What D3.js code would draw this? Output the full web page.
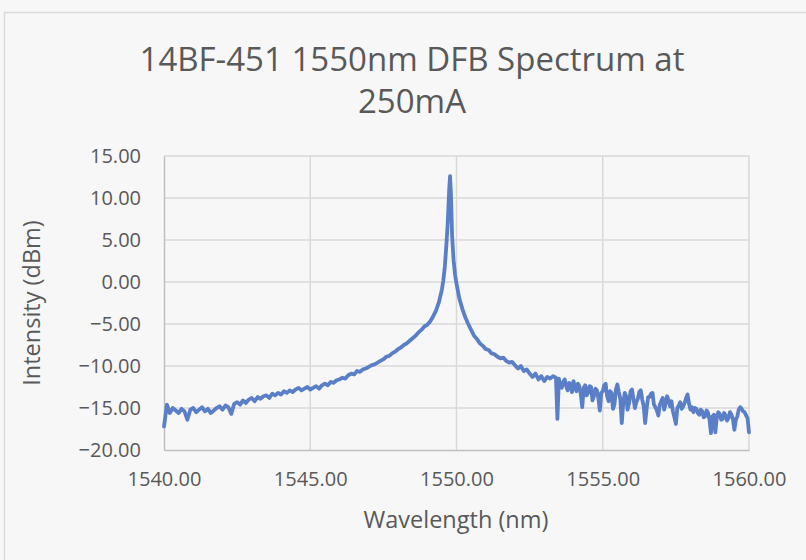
<!DOCTYPE html>
<html>
<head>
<meta charset="utf-8">
<script src="https://cdn.jsdelivr.net/npm/d3@7"></script>
<style>
  html, body { margin: 0; padding: 0; background: #f7f7f7; }
  svg { display: block; }
  text { font-family: "Open Sans", "Noto Sans", sans-serif; fill: #595959; }
</style>
</head>
<body>
<svg id="chart" width="806" height="560"></svg>
<script>
const titleLines = ["14BF-451 1550nm DFB Spectrum at", "250mA"];
const xAxisTitle = "Wavelength (nm)";
const yAxisTitle = "Intensity (dBm)";
const xTicks = [1540, 1545, 1550, 1555, 1560];
const yTicks = [-20, -15, -10, -5, 0, 5, 10, 15];

const wavelength = [
  1540.0, 1540.1, 1540.2, 1540.3, 1540.4, 1540.5, 1540.6, 1540.7, 1540.8, 1540.9,
  1541.0, 1541.1, 1541.2, 1541.3, 1541.4, 1541.5, 1541.6, 1541.7, 1541.8, 1541.9,
  1542.0, 1542.1, 1542.2, 1542.3, 1542.4, 1542.5, 1542.6, 1542.7, 1542.8, 1542.9,
  1543.0, 1543.1, 1543.2, 1543.3, 1543.4, 1543.5, 1543.6, 1543.7, 1543.8, 1543.9,
  1544.0, 1544.1, 1544.2, 1544.3, 1544.4, 1544.5, 1544.6, 1544.7, 1544.8, 1544.9,
  1545.0, 1545.1, 1545.2, 1545.3, 1545.4, 1545.5, 1545.6, 1545.7, 1545.8, 1545.9,
  1546.0, 1546.1, 1546.2, 1546.3, 1546.4, 1546.5, 1546.6, 1546.7, 1546.8, 1546.9,
  1547.0, 1547.1, 1547.2, 1547.3, 1547.4, 1547.5, 1547.6, 1547.7, 1547.8, 1547.9,
  1548.0, 1548.1, 1548.2, 1548.3, 1548.4, 1548.5, 1548.6, 1548.7, 1548.8, 1548.9,
  1549.0, 1549.1, 1549.2, 1549.3, 1549.4, 1549.5, 1549.55, 1549.6, 1549.65, 1549.7,
  1549.75, 1549.78, 1549.81, 1549.85, 1549.9, 1549.95, 1550.0, 1550.1, 1550.2, 1550.3,
  1550.4, 1550.5, 1550.6, 1550.7, 1550.8, 1550.9, 1551.0, 1551.1, 1551.2, 1551.3,
  1551.4, 1551.5, 1551.6, 1551.7, 1551.8, 1551.9, 1552.0, 1552.1, 1552.2, 1552.3,
  1552.4, 1552.5, 1552.6, 1552.7, 1552.8, 1552.9, 1553.0, 1553.1, 1553.2, 1553.3,
  1553.4, 1553.45,
  1553.50, 1553.55, 1553.60, 1553.65, 1553.70, 1553.75, 1553.80, 1553.85, 1553.90, 1553.95,
  1554.00, 1554.05, 1554.10, 1554.15, 1554.20, 1554.25, 1554.30, 1554.35, 1554.40, 1554.45,
  1554.50, 1554.55, 1554.60, 1554.65, 1554.70, 1554.75, 1554.80, 1554.85, 1554.90, 1554.95,
  1555.00, 1555.05, 1555.10, 1555.15, 1555.20, 1555.25, 1555.30, 1555.35, 1555.40, 1555.45,
  1555.50, 1555.55, 1555.60, 1555.65, 1555.70, 1555.75, 1555.80, 1555.85, 1555.90, 1555.95,
  1556.00, 1556.05, 1556.10, 1556.15, 1556.20, 1556.25, 1556.30, 1556.35, 1556.40, 1556.45,
  1556.50, 1556.55, 1556.60, 1556.65, 1556.70, 1556.75, 1556.80, 1556.85, 1556.90, 1556.95,
  1557.00, 1557.05, 1557.10, 1557.15, 1557.20, 1557.25, 1557.30, 1557.35, 1557.40, 1557.45,
  1557.50, 1557.55, 1557.60, 1557.65, 1557.70, 1557.75, 1557.80, 1557.85, 1557.90, 1557.95,
  1558.00, 1558.05, 1558.10, 1558.15, 1558.20, 1558.25, 1558.30, 1558.35, 1558.40, 1558.45,
  1558.50, 1558.55, 1558.60, 1558.65, 1558.70, 1558.75, 1558.80, 1558.85, 1558.90, 1558.95,
  1559.00, 1559.05, 1559.10, 1559.15, 1559.20, 1559.25, 1559.30, 1559.35, 1559.40, 1559.45,
  1559.50, 1559.55, 1559.60, 1559.65, 1559.70, 1559.75, 1559.80, 1559.85, 1559.90, 1559.95,
  1560.00
];

const intensity = [
  -17.2, -14.6, -15.6, -15.0, -15.3, -15.6, -15.1, -15.4, -16.4, -15.2,
  -15.0, -15.5, -15.2, -14.9, -15.4, -15.1, -15.6, -15.3, -15.0, -14.8,
  -15.2, -14.7, -14.9, -15.7, -14.5, -14.3, -14.6, -14.1, -14.4, -14.0,
  -13.8, -14.2, -13.7, -13.9, -13.6, -13.5, -13.8, -13.3, -13.5, -13.2,
  -13.4, -13.0, -13.2, -12.9, -13.1, -12.8, -12.6, -12.9, -12.7, -12.5,
  -12.8, -12.6, -12.4, -12.7, -12.3, -12.1, -12.3, -11.9, -12.0, -11.7,
  -11.6, -11.4, -11.5, -11.1, -10.9, -11.0, -10.6, -10.7, -10.4, -10.3,
  -10.1, -9.9, -9.8, -9.6, -9.4, -9.2, -8.9, -8.8, -8.5, -8.3,
  -8.0, -7.8, -7.5, -7.3, -7.0, -6.7, -6.4, -6.0, -5.7, -5.3,
  -5.1, -4.7, -4.1, -3.4, -2.4, -0.9, 0.2, 1.8, 4.2, 7.0,
  11.0, 12.6, 10.5, 5.5, 2.6, 0.9, -0.2, -2.0, -3.2, -4.2,
  -5.0, -5.7, -6.4, -6.8, -7.3, -7.6, -8.0, -8.1, -8.5, -8.6,
  -8.9, -9.1, -9.0, -9.4, -9.6, -9.5, -9.9, -10.3, -10.0, -10.6,
  -10.4, -10.9, -11.3, -10.9, -11.6, -11.2, -11.8, -11.3, -11.5, -11.2,
  -11.4, -16.3,
  -11.5, -12.3, -12.6, -11.9, -11.6, -12.4, -12.9, -12.0, -12.2, -13.1,
  -11.8, -12.5, -13.0, -12.1, -12.4, -13.4, -14.9, -12.6, -12.3, -13.5,
  -13.2, -12.4, -12.5, -14.1, -13.6, -12.7, -12.9, -13.8, -15.3, -13.2,
  -13.0, -12.3, -12.1, -13.6, -14.2, -13.0, -13.2, -15.1, -14.6, -12.8,
  -12.2, -13.1, -13.9, -16.8, -14.5, -13.2, -13.6, -15.2, -14.4, -13.0,
  -12.8, -13.9, -15.0, -14.3, -13.9, -13.1, -12.9, -14.0, -14.8, -16.8,
  -15.1, -13.7, -13.7, -13.3, -13.2, -14.6, -14.9, -15.3, -15.9, -14.6,
  -14.2, -13.8, -15.2, -14.4, -13.6, -14.1, -14.8, -14.2, -15.4, -16.1,
  -16.9, -15.0, -14.7, -14.3, -15.1, -14.8, -14.4, -13.8, -13.4, -14.5,
  -15.2, -14.9, -15.5, -15.0, -15.1, -15.6, -15.8, -15.2, -15.4, -16.1,
  -16.0, -15.3, -15.6, -16.4, -18.0, -16.0, -15.8, -17.9, -16.1, -15.5,
  -15.7, -16.4, -16.3, -15.6, -15.9, -16.5, -16.2, -15.5, -15.8, -16.3,
  -17.6, -16.4, -16.0, -15.2, -14.9, -15.1, -15.4, -15.5, -15.9, -16.2,
  -17.9
];

const data = wavelength.map((w, i) => ({ w, v: intensity[i] }));

const svg = d3.select("#chart");

// outer chart border
svg.append("rect")
  .attr("x", 4.5).attr("y", 12.5)
  .attr("width", 820).attr("height", 560)
  .attr("fill", "#f7f7f7")
  .attr("stroke", "#d9d9d9").attr("stroke-width", 1.5);

const x = d3.scaleLinear().domain([1540, 1560]).range([164, 749]);
const y = d3.scaleLinear().domain([-20, 15]).range([450, 156]);

// gridlines
svg.append("g")
  .selectAll("line")
  .data(yTicks.filter(t => t > -20))
  .join("line")
  .attr("x1", x(1540)).attr("x2", x(1560))
  .attr("y1", d => y(d)).attr("y2", d => y(d))
  .attr("stroke", "#d9d9d9").attr("stroke-width", 1.5);

svg.append("g")
  .selectAll("line")
  .data(xTicks.filter(t => t > 1540))
  .join("line")
  .attr("x1", d => x(d)).attr("x2", d => x(d))
  .attr("y1", y(15)).attr("y2", y(-20))
  .attr("stroke", "#d9d9d9").attr("stroke-width", 1.5);

// axes
const xAxis = d3.axisBottom(x).tickValues(xTicks).tickFormat(d3.format(".2f")).tickSize(0).tickPadding(22);
const gx = svg.append("g").attr("transform", `translate(0,${y(-20)})`).call(xAxis);
gx.select(".domain").attr("stroke", "#bfbfbf").attr("stroke-width", 1.5);
gx.selectAll("text").style("font-size", "20px").attr("fill", "#595959")
  .style("font-family", '"Open Sans", sans-serif');

const yAxis = d3.axisLeft(y).tickValues(yTicks).tickFormat(d3.format(".2f")).tickSize(0).tickPadding(23);
const gy = svg.append("g").attr("transform", `translate(${x(1540)},0)`).call(yAxis);
gy.select(".domain").attr("stroke", "#bfbfbf").attr("stroke-width", 1.5);
gy.selectAll("text").style("font-size", "20px").attr("fill", "#595959")
  .style("font-family", '"Open Sans", sans-serif');

// line
const line = d3.line().x(d => x(d.w)).y(d => y(d.v));
svg.append("path")
  .datum(data)
  .attr("d", line)
  .attr("fill", "none")
  .attr("stroke", "#5a7fc7")
  .attr("stroke-width", 3.8)
  .attr("stroke-linejoin", "round")
  .attr("stroke-linecap", "round");

// titles
svg.append("text")
  .attr("x", 412).attr("y", 71)
  .attr("text-anchor", "middle")
  .style("font-size", "33px")
  .text(titleLines[0]);
svg.append("text")
  .attr("x", 412).attr("y", 113)
  .attr("text-anchor", "middle")
  .style("font-size", "33px")
  .text(titleLines[1]);

svg.append("text")
  .attr("x", 456).attr("y", 528)
  .attr("text-anchor", "middle")
  .style("font-size", "23.5px")
  .text(xAxisTitle);

svg.append("text")
  .attr("transform", "translate(40,303) rotate(-90)")
  .attr("text-anchor", "middle")
  .style("font-size", "23.5px")
  .text(yAxisTitle);
</script>
</body>
</html>
